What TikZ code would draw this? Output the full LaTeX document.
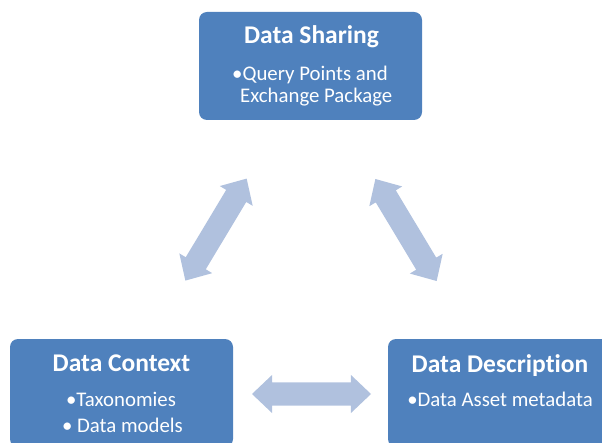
\documentclass[tikz,border=0pt]{standalone}
\usepackage{fontspec}
\setmainfont{Carlito}[Ligatures=NoCommon]
\usetikzlibrary{shapes.arrows}
\definecolor{boxblue}{RGB}{79,129,189}
\definecolor{linkblue}{RGB}{176,193,222}

\tikzset{
  block/.style={fill=boxblue,rounded corners=8pt,minimum width=223pt,
    minimum height=108pt,inner sep=0pt},
  heading/.style={text=white,inner sep=0pt,anchor=base,
    font=\fontsize{25.5}{28}\selectfont\bfseries},
  item/.style={text=white,inner sep=0pt,anchor=base,
    font=\fontsize{20.8}{24}\selectfont},
  link/.style={double arrow,fill=linkblue,inner xsep=0pt,inner ysep=11.5pt,
    minimum height=119pt,minimum width=38pt,
    double arrow head extend=7.5pt,double arrow tip angle=87}
}

\begin{document}
\begin{tikzpicture}[x=1pt,y=1pt]
  \useasboundingbox (0,0) rectangle (602,442);

  % the three boxes
  \node[block] (share) at (310.5,376) {};
  \node[block] (context) at (121.5,49) {};
  \node[block] (descr) at (499.5,49) {};

  % texts
  \node[heading] (shareHead) at (311.5,398) {Data Sharing};
  \node[item,anchor=base west] (shareA) at (232,361) {•Query Points and};
  \node[item,anchor=base west] (shareB) at (240,339) {Exchange Package};

  \node[heading] (contextHead) at (121.5,71) {Data Context};
  \node[item] (contextA) at (121,36) {•Taxonomies};
  \node[item] (contextB) at (122.5,10) {• Data models};

  \node[heading] (descrHead) at (500,70) {Data Description};
  \node[item] (descrA) at (500,36) {•Data Asset metadata};

  % double arrows between the boxes
  \node[link,rotate=59] (shareContext) at (216,212.4) {};
  \node[link,rotate=-59] (shareDescr) at (406,212) {};
  \node[link] (contextDescr) at (311.5,48) {};
\end{tikzpicture}
\end{document}
